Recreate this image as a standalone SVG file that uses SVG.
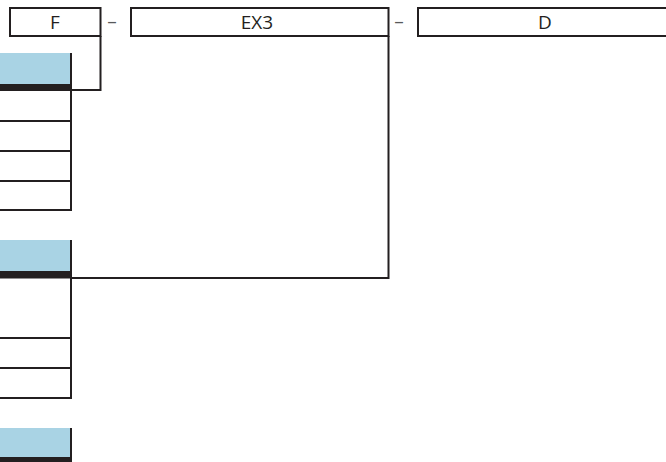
<svg xmlns="http://www.w3.org/2000/svg" width="666" height="462" viewBox="0 0 666 462">
<style>
.box{fill:#fff;stroke:#231f20;stroke-width:2}
.lbl{font-family:"Open Sans","Liberation Sans",sans-serif;font-size:19px;fill:#231f20;text-anchor:middle}
.dash{font-family:"Open Sans","Liberation Sans",sans-serif;font-size:19px;fill:#58595b;text-anchor:middle}
.hdr{fill:#a9d3e4}
.band{fill:#231f20}
.ln{stroke:#231f20;stroke-width:2;fill:none}
.conn{stroke:#231f20;stroke-width:2;fill:none}
</style>
<rect width="666" height="462" fill="#fff"/>
<g id="node-F">
<rect class="box" x="10" y="8" width="90.5" height="28"/>
<text class="lbl" x="55" y="29">F</text>
</g>
<text class="dash" x="112" y="28">–</text>
<g id="node-EX3">
<rect class="box" x="131" y="8" width="257.5" height="28"/>
<text class="lbl" x="257" y="29">EX3</text>
</g>
<text class="dash" x="399" y="28">–</text>
<g id="node-D">
<rect class="box" x="418" y="8" width="260" height="28"/>
<text class="lbl" x="545" y="29">D</text>
</g>
<g id="table-1">
<rect class="hdr" x="0" y="53" width="71" height="31"/>
<rect class="band" x="0" y="84" width="72" height="7"/>
<path class="ln" d="M71,53 V211 M0,121 H71 M0,151 H71 M0,181 H71 M0,210 H72"/>
</g>
<g id="table-2">
<rect class="hdr" x="0" y="240" width="71" height="31"/>
<rect class="band" x="0" y="271" width="72" height="7.5"/>
<path class="ln" d="M71,240 V399 M0,338 H71 M0,368 H71 M0,398 H72"/>
</g>
<g id="table-3">
<rect class="hdr" x="0" y="428" width="71" height="29"/>
<rect class="band" x="0" y="457" width="72" height="5"/>
<path class="ln" d="M71,428 V462"/>
</g>
<g id="connectors">
<path class="conn" d="M100.5,36 V90 H71"/>
<path class="conn" d="M388.5,36 V278 H71"/>
</g>
</svg>
